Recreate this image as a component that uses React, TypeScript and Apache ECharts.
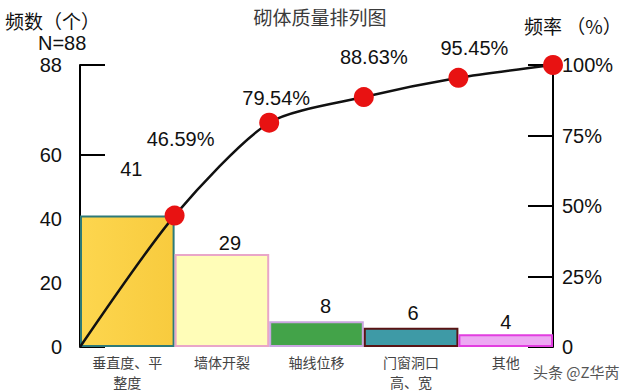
import React, { useEffect, useRef } from "react";
import * as echarts from "echarts";

const categories = ["垂直度、平\n整度", "墙体开裂", "轴线位移", "门窗洞口\n高、宽", "其他"];
const counts = [41, 29, 8, 6, 4];
const cumulativePercent = [0, 46.59, 79.54, 88.63, 95.45, 100];
const leftTicks = [0, 20, 40, 60, 88];
const rightTicks = [0, 25, 50, 75, 100];

const FONT = '"Liberation Sans", Arial, "Noto Sans CJK SC", sans-serif';
const CJK = '"Noto Sans CJK SC", sans-serif';

const barStyles = [
  {
    color: new echarts.graphic.LinearGradient(0, 0, 1, 0, [
      { offset: 0, color: "#FDD64E" },
      { offset: 1, color: "#F8CB3E" },
    ]),
    borderColor: "#2E7A78",
    borderWidth: 2,
  },
  { color: "#FFFDB8", borderColor: "#E9A6C8", borderWidth: 2 },
  { color: "#43A349", borderColor: "#C9A6E0", borderWidth: 2 },
  { color: "#3E9AA6", borderColor: "#5A1414", borderWidth: 2 },
  { color: "#EDA9F3", borderColor: "#E23EE0", borderWidth: 2 },
];
const barLabelOffsets = [
  [4, -32],
  [8, 4],
  [9, 0],
  [2, 0],
  [0, 3],
];
const lineLabelOffsets = [
  [0, 0],
  [6, -77],
  [7, -25],
  [10, -40],
  [16, -30],
  [0, 0],
];

export default function App() {
  const ref = useRef<HTMLDivElement>(null);
  useEffect(() => {
    if (!ref.current) return;
    const chart = echarts.init(ref.current, undefined, { renderer: "svg" });
    const option = {
      animation: false,
      backgroundColor: "#ffffff",
      title: {
        text: "砌体质量排列图",
        left: "center",
        top: 2,
        textStyle: { fontFamily: CJK, fontSize: 19, fontWeight: "normal", color: "#3a3a3a" },
      },
      graphic: [
        {
          type: "text",
          left: 5,
          top: 11,
          style: { text: "频数（个）", font: `19px ${CJK}`, fill: "#111" },
        },
        {
          type: "text",
          left: 38,
          top: 33,
          style: { text: "N=88", font: `20px ${FONT}`, fill: "#111" },
        },
        {
          type: "text",
          left: 524,
          top: 16,
          style: { text: "频率 （%）", font: `19px ${CJK}`, fill: "#111" },
        },
        {
          type: "text",
          left: 533,
          top: 364,
          style: { text: "头条 @Z华芮", font: `15px ${CJK}`, fill: "#555" },
        },
      ],
      grid: { left: 80, right: 87, top: 65, bottom: 43 },
      xAxis: [
        {
          type: "category",
          data: categories,
          axisLine: { show: false },
          axisTick: { show: false },
          axisLabel: {
            interval: 0,
            margin: 5,
            fontFamily: CJK,
            fontSize: 14,
            color: "#444",
            lineHeight: 20,
          },
        },
        {
          type: "value",
          min: 0,
          max: 5,
          show: false,
        },
      ],
      yAxis: [
        {
          type: "value",
          min: 0,
          max: 88,
          position: "left",
          splitLine: { show: false },
          axisLine: { show: true, lineStyle: { color: "#000", width: 2 } },
          axisTick: {
            show: true,
            inside: true,
            length: 25,
            customValues: leftTicks,
            lineStyle: { color: "#000", width: 2 },
          },
          axisLabel: {
            customValues: leftTicks,
            margin: 18,
            fontFamily: FONT,
            fontSize: 20,
            color: "#111",
          },
        },
        {
          type: "value",
          min: 0,
          max: 100,
          interval: 25,
          position: "right",
          splitLine: { show: false },
          axisLine: { show: true, lineStyle: { color: "#000", width: 2 } },
          axisTick: {
            show: true,
            inside: true,
            length: 25,
            customValues: rightTicks,
            lineStyle: { color: "#000", width: 2 },
          },
          axisLabel: {
            customValues: rightTicks,
            margin: 9,
            fontFamily: FONT,
            fontSize: 20,
            color: "#111",
            formatter: (v: number) => (v === 0 ? "0" : `${v}%`),
          },
        },
      ],
      series: [
        {
          type: "bar",
          xAxisIndex: 0,
          yAxisIndex: 0,
          barCategoryGap: "0%",
          z: 1,
          data: counts.map((v, i) => ({
            value: v,
            itemStyle: barStyles[i],
            label: {
              show: true,
              position: "top",
              offset: barLabelOffsets[i],
              fontFamily: FONT,
              fontSize: 20,
              color: "#111",
            },
          })),
        },
        {
          type: "line",
          xAxisIndex: 1,
          yAxisIndex: 1,
          smooth: 0.25,
          z: 5,
          lineStyle: { color: "#111", width: 2.5 },
          itemStyle: { color: "#E81212" },
          symbol: "circle",
          symbolSize: 20,
          data: cumulativePercent.map((p, i) => ({
            value: [i, p],
            symbol: i === 0 ? "none" : "circle",
            label: {
              show: i > 0 && i < cumulativePercent.length - 1,
              position: "inside",
              offset: lineLabelOffsets[i],
              fontFamily: FONT,
              fontSize: 20,
              color: "#111",
              formatter: (params: any) => `${params.value[1].toFixed(2)}%`,
            },
          })),
        },
      ],
    };
    chart.setOption(option as any);
    return () => chart.dispose();
  }, []);
  return <div ref={ref} style={{ width: 640, height: 392, position: "fixed", left: 0, top: 0 }} />;
}
